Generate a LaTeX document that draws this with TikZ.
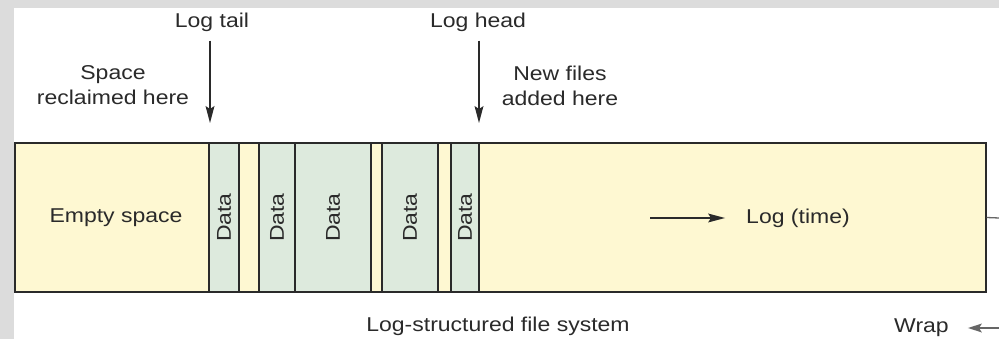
\documentclass[tikz,border=0pt]{standalone}
\usepackage{fontspec}
\setmainfont{Liberation Sans}[FakeStretch=1.15]
\usetikzlibrary{arrows.meta}
\definecolor{framegray}{HTML}{DCDCDC}
\definecolor{logyel}{HTML}{FEF8D2}
\definecolor{datagrn}{HTML}{DDEADD}
\definecolor{ink}{HTML}{2A2A2A}
\definecolor{wrapgray}{HTML}{666666}
\begin{document}
\begin{tikzpicture}[x=1pt,y=-1pt,
  lbl/.style={font=\fontsize{20}{25}\selectfont, text=ink, inner sep=0pt, align=center},
  logbox/.style={draw=ink, line width=1.3pt, fill=logyel, inner sep=0pt, minimum height=149pt},
  stripbox/.style={draw=ink, line width=1.3pt, fill=datagrn, inner sep=0pt, minimum height=149pt},
  arr/.style={draw=ink, line width=1.3pt, -{Stealth[length=17pt,width=9pt,inset=3pt,line width=0pt]}},
  grayarr/.style={draw=wrapgray, line width=1.3pt, -{Stealth[length=14pt,width=9pt,inset=3pt,line width=0pt]}}]
\useasboundingbox (0,0) rectangle (999,339);
\fill[white] (0,0) rectangle (999,339);
\fill[framegray] (0,0) rectangle (999,8);
\fill[framegray] (0,0) rectangle (14,339);

% main log rectangle
\node[logbox, minimum width=971pt] (log) at (500.5,217.5) {};
% data strips
\node[stripbox, minimum width=30pt] (s1) at (224,217.5) {};
\node[stripbox, minimum width=36pt] (s2) at (277,217.5) {};
\node[stripbox, minimum width=76pt] (s3) at (333,217.5) {};
\node[stripbox, minimum width=56pt] (s4) at (410,217.5) {};
\node[stripbox, minimum width=28pt] (s5) at (465,217.5) {};
\node[lbl, rotate=90] (d1) at (s1) {Data};
\node[lbl, rotate=90] (d2) at (s2) {Data};
\node[lbl, rotate=90] (d3) at (s3) {Data};
\node[lbl, rotate=90] (d4) at (s4) {Data};
\node[lbl, rotate=90] (d5) at (s5) {Data};

\node[lbl] (empty) at (116,218) {Empty space};
\node[lbl] (logtime) at (798,218) {Log (time)};
\coordinate (timestart) at (650,218);
\draw[arr, shorten >=21pt] (timestart) -- (logtime.west);

% top labels and arrows
\node[lbl] (tail) at (212,22) {Log tail};
\node[lbl] (reclaim) at (113,85) {Space\\reclaimed here};
\coordinate (tailend) at (210,123);
\draw[arr, shorten <=9pt] (tail.south -| tailend) -- (tailend);

\node[lbl] (head) at (478,22) {Log head};
\node[lbl] (newfiles) at (560,86) {New files\\added here};
\coordinate (headend) at (479,123);
\draw[arr, shorten <=9pt] (head.south -| headend) -- (headend);

% bottom labels
\node[lbl] (caption) at (498,326) {Log-structured file system};
\node[lbl] (wrap) at (921.5,328) {Wrap};
\coordinate (rightout) at (999,218);
\coordinate (wrapin) at (999,328);
\draw[draw=wrapgray, line width=1.3pt] (log.east) -- (rightout);
\draw[grayarr, shorten >=19pt] (wrapin) -- (wrap.east);
\end{tikzpicture}
\end{document}
